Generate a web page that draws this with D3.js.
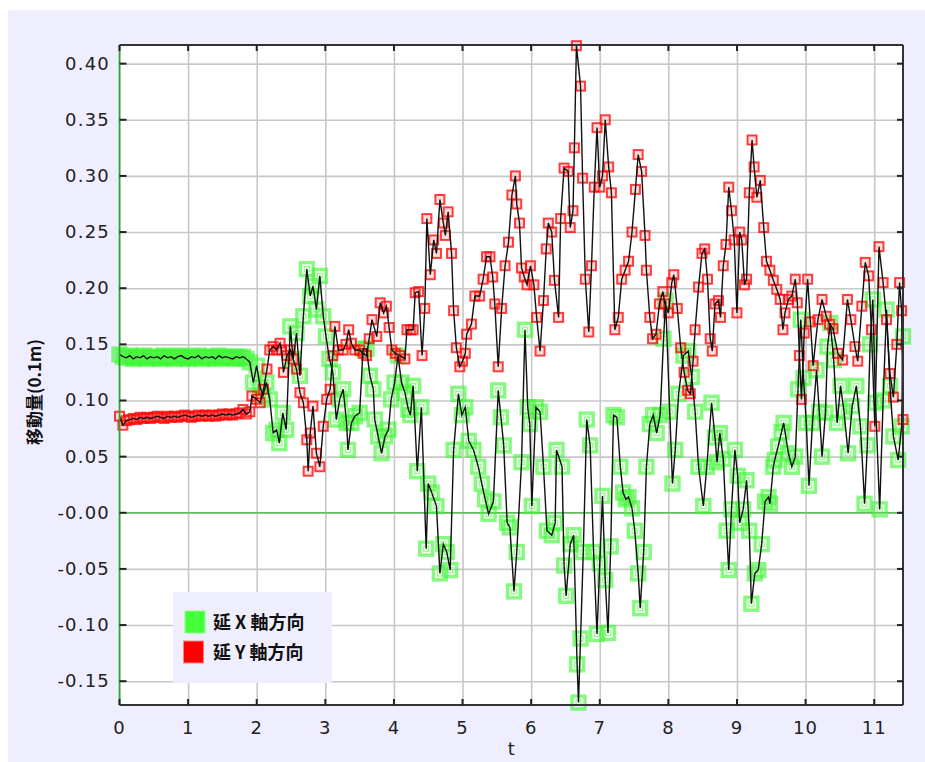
<!DOCTYPE html>
<html><head><meta charset="utf-8">
<script src="https://cdnjs.cloudflare.com/ajax/libs/d3/7.8.5/d3.min.js"></script>
<style>html,body{margin:0;padding:0;background:#fff;}svg{display:block;}</style>
</head><body>
<script>
// ---- data ----
const xTicks = [0,1,2,3,4,5,6,7,8,9,10,11];
const yTickVals = [0.40,0.35,0.30,0.25,0.20,0.15,0.10,0.05,0.00,-0.05,-0.10,-0.15];
const yTickLabels = ["0.40","0.35","0.30","0.25","0.20","0.15","0.10","0.05","-0.00","-0.05","-0.10","-0.15"];
const seriesNames = ["延 X 軸方向","延 Y 軸方向"];

const tX = [0,0.05,0.1,0.15,0.2,0.25,0.3,0.35,0.4,0.45,0.5,0.55,0.6,0.65,0.7,0.75,0.8,0.85,0.9,0.95,1,1.05,1.1,1.15,1.2,1.25,1.3,1.35,1.4,1.45,1.5,1.55,1.6,1.65,1.7,1.75,1.8,1.85,
1.9,1.95,2.0,2.05,2.09,2.14,2.19,2.24,2.29,2.33,2.38,2.43,2.49,2.53,2.58,2.63,2.68,2.73,2.78,2.82,2.87,2.92,2.97,3.01,3.06,3.11,3.16,3.21,3.26,3.31,3.33,3.38,3.43,3.5,3.55,3.6,3.65,3.7,3.72,3.77,3.82,3.87,3.92,3.96,4.01,4.06,4.11,4.16,4.21,4.24,4.28,4.34,4.4,4.47,4.5,4.55,4.62,4.67,4.72,4.77,4.82,4.87,4.94,4.99,5.04,5.09,5.16,5.23,5.28,5.33,5.38,5.45,5.52,5.56,5.6,5.65,5.69,5.75,5.79,5.86,5.91,5.95,5.98,6.01,6.07,6.13,6.18,6.23,6.3,6.35,6.37,6.45,6.48,6.51,6.57,6.62,6.67,6.69,6.72,6.76,6.81,6.86,6.91,6.96,7.0,7.04,7.08,7.12,7.16,7.2,7.25,7.3,7.34,7.38,7.42,7.47,7.51,7.56,7.59,7.64,7.68,7.73,7.78,7.83,7.88,7.93,7.96,8.02,8.06,8.1,8.15,8.22,8.29,8.34,8.39,8.44,8.51,8.56,8.63,8.68,8.71,8.75,8.8,8.85,8.88,8.92,8.97,9.01,9.04,9.09,9.14,9.18,9.21,9.26,9.31,9.36,9.41,9.46,9.48,9.53,9.55,9.6,9.65,9.68,9.75,9.8,9.85,9.89,9.93,9.97,10.01,10.05,10.1,10.16,10.2,10.24,10.29,10.32,10.36,10.41,10.46,10.51,10.56,10.62,10.68,10.74,10.8,10.86,10.9,10.94,10.98,11.02,11.08,11.13,11.18,11.23,11.28,11.35,11.4,11.42];
const dispX = [.141,.139,.138,.140,.137,.139,.138,.140,.137,.139,.138,.139,.137,.140,.138,.139,.137,.139,.140,.138,.137,.139,.138,.140,.137,.139,.138,.139,.137,.140,.138,.139,.138,.137,.139,.138,.139,.137,
.134,.116,.131,.112,.104,.116,.101,.071,.074,.062,.089,.074,.166,.137,.160,.122,.175,.217,.193,.202,.181,.211,.175,.157,.137,.125,.083,.101,.110,.080,.056,.080,.086,.089,.146,.146,.122,.110,.083,.068,.053,.068,.074,.101,.116,.140,.116,.107,.092,.087,.113,.037,.094,-.032,.026,.018,.006,-.054,-.028,-.035,-.051,.056,.106,.087,.094,.064,.056,.041,.026,.012,-.001,.010,.109,.085,.060,-.009,-.013,-.070,-.035,.045,.163,.094,.079,.006,.094,.090,.041,-.016,-.020,-.009,.056,.041,-.047,-.074,-.028,-.020,-.135,-.169,-.112,-.035,.083,.060,-.035,-.108,-.045,.015,-.060,-.107,-.030,.087,.085,.041,.018,.012,.014,.004,-.016,-.054,-.085,-.035,.041,.079,.087,.071,.087,.155,.189,.090,.026,.056,.106,.140,.144,.121,.090,.041,.006,.041,.098,.067,.045,.071,.048,-.016,-.051,.003,.056,.033,-.009,.003,.029,-.016,-.081,-.054,-.051,-.028,.010,.014,.008,.041,.047,.059,.072,.080,.053,.041,.050,.110,.172,.120,.080,.024,.080,.127,.090,.050,.089,.148,.169,.136,.080,.113,.090,.053,.095,.113,.077,.008,.060,.150,.190,.098,.003,.100,.181,.113,.068,.047,.077,.157];

const tY = [0,0.05,0.1,0.15,0.2,0.25,0.3,0.35,0.4,0.45,0.5,0.55,0.6,0.65,0.7,0.75,0.8,0.85,0.9,0.95,1,1.05,1.1,1.15,1.2,1.25,1.3,1.35,1.4,1.45,1.5,1.55,1.6,1.65,1.7,1.75,1.8,1.85,
1.9,1.93,2.0,2.05,2.1,2.15,2.19,2.24,2.29,2.34,2.36,2.39,2.44,2.49,2.53,2.58,2.63,2.68,2.73,2.75,2.78,2.82,2.87,2.92,2.97,3.02,3.07,3.11,3.14,3.19,3.26,3.3,3.34,3.38,3.43,3.5,3.55,3.6,3.64,3.68,3.75,3.8,3.85,3.89,3.93,3.97,4.02,4.09,4.16,4.19,4.24,4.28,4.31,4.36,4.41,4.45,4.48,4.53,4.58,4.62,4.67,4.72,4.75,4.79,4.84,4.87,4.91,4.96,5.0,5.04,5.06,5.13,5.18,5.25,5.3,5.35,5.4,5.44,5.47,5.52,5.57,5.62,5.67,5.72,5.77,5.79,5.83,5.86,5.9,5.94,5.99,6.04,6.08,6.13,6.18,6.22,6.25,6.3,6.34,6.4,6.43,6.48,6.54,6.57,6.61,6.63,6.66,6.72,6.75,6.79,6.84,6.88,6.92,6.96,7.0,7.04,7.08,7.13,7.17,7.22,7.27,7.32,7.37,7.42,7.47,7.52,7.56,7.61,7.66,7.68,7.73,7.77,7.82,7.87,7.92,7.95,8.0,8.05,8.08,8.13,8.18,8.23,8.28,8.32,8.36,8.39,8.44,8.49,8.53,8.57,8.61,8.64,8.68,8.73,8.76,8.8,8.84,8.88,8.92,8.96,9.0,9.04,9.07,9.11,9.14,9.18,9.22,9.25,9.29,9.34,9.39,9.43,9.48,9.53,9.58,9.63,9.67,9.7,9.75,9.8,9.85,9.88,9.91,9.94,9.98,10.03,10.07,10.11,10.18,10.24,10.3,10.35,10.4,10.47,10.54,10.61,10.66,10.72,10.76,10.82,10.87,10.92,10.96,11.01,11.07,11.13,11.18,11.23,11.28,11.33,11.37,11.4,11.42];
const dispY = [.086,.078,.082,.083,.084,.083,.085,.084,.085,.084,.085,.086,.085,.084,.086,.085,.086,.085,.086,.087,.086,.085,.086,.087,.086,.087,.086,.087,.086,.087,.088,.087,.088,.087,.088,.089,.092,.088,
.090,.104,.101,.098,.110,.128,.145,.148,.145,.151,.145,.125,.140,.145,.137,.128,.107,.098,.065,.037,.071,.095,.053,.041,.077,.101,.110,.140,.166,.145,.145,.150,.163,.151,.145,.145,.142,.140,.155,.172,.157,.187,.178,.184,.165,.145,.142,.140,.137,.163,.163,.163,.196,.197,.140,.182,.262,.212,.243,.231,.279,.258,.247,.268,.231,.180,.147,.130,.135,.142,.159,.168,.193,.193,.208,.228,.228,.210,.186,.130,.182,.220,.241,.283,.300,.275,.258,.218,.210,.203,.220,.203,.174,.144,.189,.235,.258,.250,.207,.174,.262,.307,.304,.254,.269,.325,.416,.380,.298,.208,.161,.220,.290,.343,.290,.300,.350,.308,.285,.163,.174,.208,.216,.224,.250,.288,.319,.304,.247,.216,.174,.155,.159,.186,.197,.186,.178,.205,.212,.182,.147,.125,.109,.106,.135,.163,.201,.231,.235,.208,.155,.144,.186,.189,.174,.220,.239,.290,.269,.243,.178,.250,.243,.203,.208,.285,.332,.308,.281,.296,.254,.224,.216,.207,.199,.190,.163,.178,.190,.193,.208,.187,.140,.101,.160,.208,.170,.131,.172,.190,.175,.168,.164,.142,.136,.190,.172,.148,.135,.184,.223,.211,.163,.077,.237,.205,.172,.124,.103,.150,.205,.180,.083];

// ---- layout ----
const W = 925, H = 762;
const L = 119.5, R = 903, T = 45, B = 705;
const svg = d3.select("body").append("svg").attr("width", W).attr("height", H);
svg.append("rect").attr("x",0).attr("y",0).attr("width",W).attr("height",H).attr("fill","#ffffff");
svg.append("rect").attr("x",8).attr("y",10).attr("width",W-8).attr("height",H-10).attr("fill","#eeeeff");
svg.append("rect").attr("x",L).attr("y",T).attr("width",R-L).attr("height",B-T).attr("fill","#ffffff");

const x = d3.scaleLinear().domain([0, 11.42]).range([L, R]);
const y = d3.scaleLinear().domain([-0.1712, 0.4166]).range([B, T]);

// grid
const grid = svg.append("g");
grid.append("g").attr("transform",`translate(0,${B})`)
  .call(d3.axisBottom(x).tickValues(xTicks).tickSize(-(B-T)).tickFormat(""))
  .call(g=>{g.select(".domain").remove(); g.selectAll("line").attr("stroke","#c8c8c8").attr("stroke-width",1.6);});
grid.append("g").attr("transform",`translate(${L},0)`)
  .call(d3.axisLeft(y).tickValues(yTickVals).tickSize(-(R-L)).tickFormat(""))
  .call(g=>{g.select(".domain").remove(); g.selectAll("line").attr("stroke","#c8c8c8").attr("stroke-width",1.6);});
// zero line
svg.append("line").attr("x1",L).attr("x2",R).attr("y1",y(0)).attr("y2",y(0)).attr("stroke","#5cbf5c").attr("stroke-width",1.6);

const dataX = tX.map((t,i)=>({t, v: dispX[i]}));
const dataY = tY.map((t,i)=>({t, v: dispY[i]}));

const plot = svg.append("g");
// green markers
const gM = plot.append("g");
gM.selectAll("rect.o").data(dataX).join("rect").attr("class","o")
  .attr("x",d=>x(d.t)-6.5).attr("y",d=>y(d.v)-6.5).attr("width",13).attr("height",13)
  .attr("fill","rgba(120,255,110,0.12)").attr("stroke","rgba(60,245,50,0.6)").attr("stroke-width",3.4);
gM.selectAll("rect.i").data(dataX).join("rect").attr("class","i")
  .attr("x",d=>x(d.t)-2.5).attr("y",d=>y(d.v)-2.5).attr("width",5).attr("height",5)
  .attr("fill","none").attr("stroke","rgba(60,245,50,0.5)").attr("stroke-width",1.2);
// red markers
const rM = plot.append("g");
rM.selectAll("rect").data(dataY).join("rect")
  .attr("x",d=>x(d.t)-4.5).attr("y",d=>y(d.v)-4.5).attr("width",9).attr("height",9)
  .attr("fill","rgba(255,120,120,0.25)").attr("stroke","rgba(255,0,0,0.75)").attr("stroke-width",2);
// lines
const line = d3.line().x(d=>x(d.t)).y(d=>y(d.v));
plot.append("path").datum(dataX).attr("d",line).attr("fill","none").attr("stroke","#111").attr("stroke-width",1.4);
plot.append("path").datum(dataY).attr("d",line).attr("fill","none").attr("stroke","#111").attr("stroke-width",1.4);

// frame
svg.append("line").attr("x1",L).attr("x2",R).attr("y1",T).attr("y2",T).attr("stroke","#333").attr("stroke-width",2);
svg.append("line").attr("x1",L).attr("x2",R).attr("y1",B).attr("y2",B).attr("stroke","#333").attr("stroke-width",2);
svg.append("line").attr("x1",R).attr("x2",R).attr("y1",T).attr("y2",B).attr("stroke","#333").attr("stroke-width",2);
svg.append("line").attr("x1",L).attr("x2",L).attr("y1",T).attr("y2",B).attr("stroke","#22aa22").attr("stroke-width",1.6);

// inward ticks
const tk = svg.append("g").attr("stroke","#222").attr("stroke-width",2);
xTicks.forEach(t=>{
  tk.append("line").attr("x1",x(t)).attr("x2",x(t)).attr("y1",B).attr("y2",B-6);
  tk.append("line").attr("x1",x(t)).attr("x2",x(t)).attr("y1",T).attr("y2",T+6);
});
yTickVals.forEach(v=>{
  tk.append("line").attr("x1",L).attr("x2",L+7).attr("y1",y(v)).attr("y2",y(v));
  tk.append("line").attr("x1",R).attr("x2",R-6).attr("y1",y(v)).attr("y2",y(v));
});

// tick labels
const font = "'DejaVu Sans', sans-serif";
svg.append("g").selectAll("text").data(xTicks).join("text")
  .attr("x",d=>x(d)).attr("y",734).attr("text-anchor","middle")
  .attr("font-family",font).attr("font-size",18).attr("fill","#222").attr("letter-spacing",1)
  .text(d=>d);
svg.append("g").selectAll("text").data(yTickVals).join("text")
  .attr("x",110).attr("y",d=>y(d)+6).attr("text-anchor","end")
  .attr("font-family",font).attr("font-size",18).attr("fill","#222").attr("letter-spacing",1.2)
  .text((d,i)=>yTickLabels[i]);

// axis titles
svg.append("text").attr("x",(L+R)/2).attr("y",755).attr("text-anchor","middle")
  .attr("font-family",font).attr("font-size",18).attr("fill","#222").text("t");
svg.append("text").attr("transform","translate(41,392) rotate(-90)").attr("text-anchor","middle")
  .attr("font-family","'Noto Sans CJK JP', sans-serif").attr("font-weight","bold").attr("font-size",17).attr("fill","#111")
  .text("移動量(0.1m)");

// legend
const lg = svg.append("g");
lg.append("rect").attr("x",173).attr("y",592).attr("width",159).attr("height",91).attr("fill","#eeeeff");
const lgColors = [{fill:"#44ff3a", stroke:"#88ff80"},{fill:"#ff0000", stroke:"#ff8080"}];
seriesNames.forEach((n,i)=>{
  const yy = 611 + i*30;
  lg.append("rect").attr("x",185 - i*1.5).attr("y",yy).attr("width",20).attr("height",22)
    .attr("fill",lgColors[i].fill).attr("stroke",lgColors[i].stroke).attr("stroke-width",1);
  lg.append("text").attr("x",213).attr("y",yy+18).attr("font-family","'Noto Sans CJK JP', sans-serif")
    .attr("font-weight","bold").attr("font-size",18).attr("fill","#111").text(n);
});
</script>
</body></html>
